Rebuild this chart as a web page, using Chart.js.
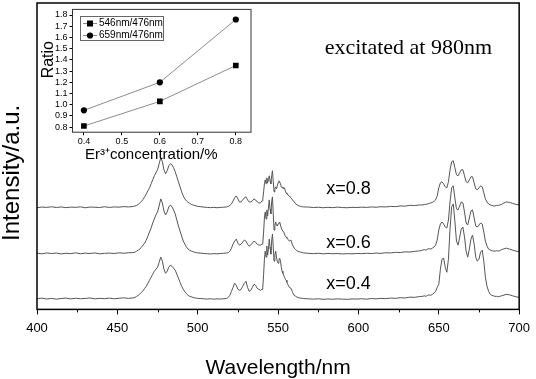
<!DOCTYPE html>
<html><head><meta charset="utf-8">
<script src="https://cdn.jsdelivr.net/npm/chart.js@4/dist/chart.umd.min.js"></script>
<style>
html,body{margin:0;padding:0;background:#fff;}
#wrap{position:relative;width:536px;height:379px;overflow:hidden;}
#main{position:absolute;left:0;top:0;}
#inset{position:absolute;left:38px;top:2px;}
</style></head><body>
<div id="wrap"><canvas id="main" width="536" height="379"></canvas><canvas id="inset" width="219" height="164"></canvas></div>
<script>
// ---------- data ----------
const wavelengths = [
 400,403,406,409,412,415,418,421,424,427,430,433,436,439,442,445,448,451,454,457,
 460,461,462,463,464,465,466,467,468,469,470,471,472,473,474,475,476,477,478,479,480,481,482,483,484,485,486,487,488,489,490,491,492,493,494,495,496,497,498,499,500,
 502,504,506,508,510,512,514,516,518,
 519,520,521,522,523,524,525,526,527,528,529,530,531,532,533,534,535,536,537,538,539,540,
 540.5,541,541.5,542,542.5,543,543.5,544,544.5,545,545.5,546,546.5,547,547.5,548,548.5,549,549.5,550,550.5,551,551.5,552,552.5,553,553.5,554,554.5,555,555.5,556,
 557,558,559,560,561,562,563,564,565,566,
 569,572,575,578,581,584,587,590,593,596,599,602,605,608,611,614,617,620,623,626,629,632,635,638,
 640,641,642,643,644,645,646,647,648,649,650,651,652,653,654,655,656,657,658,659,660,661,662,663,664,665,666,667,668,669,670,671,672,673,674,675,676,677,678,679,680,681,682,683,684,685,686,687,688,689,690,
 692,694,696,698,700
];
const spec04 = [
 0.5,1.2,0.3,1.0,0.2,0.8,1.3,0.4,1.1,0.6,0.9,1.4,0.5,1.0,0.7,1.2,0.6,1.1,1.5,1.0,
 1.5,2,3,4,5.5,7,8.5,11,13,16, 19,22,25,28,30,32,37,42,38,30, 26,28,32,34,33,31,29,25,21,17, 13,10,7.5,5.5,4,3,2.5,2,1.5,1.2, 1,
 0.8,0.5,0.3,0.6,0.2,0.5,0.3,0.6,0.9,
 2,4,8,12,16,14,10,9,10,13, 16,18,12,8,9,12,15,14,11,10, 9,10,
 12,25,40,48,42,53,44,50,60,52, 45,58,65,52,38,44,48,42,38,36, 39,41,38,32,28,26,24,22,20,19, 17,15,
 12,11,7,4,3,2,1.5,1.2,1,0.8,
 0.5,0.2,0.6,0.0,0.4,0.1,0.5,0.2,0.0,0.4,0.3,0.6,0.2,0.8,0.5,1.0,0.7,1.3,1.0,1.6,1.4,2.2,2.0,2.8,
 3,3.5,3,4,4.5,4,5,6,8,12, 15,30,40,41,32,27,40,70,92,95, 78,58,54,62,70,72,62,48,42,50, 60,64,55,42,38,40,47,49,38,22, 13,8,5,4,3.5,3,3,2.5,3,3.5, 4,
 5,4.5,3.5,2.5,2
];
const spec06 = [
 1.0,0.3,1.2,0.6,1.1,0.2,0.9,0.5,1.3,0.4,1.0,0.7,1.2,0.3,0.8,1.1,0.6,1.3,0.9,1.4,
 1.5,2,3,4,5,7,9,11,14,18, 22,26,31,35,39,42,48,55,51,43, 39,42,47,49,47,44,40,34,28,23, 18,13,10,7,5,4,3,2.5,2,1.5, 1.2,
 1.0,0.6,0.4,0.2,0.5,0.3,0.6,0.8,1.2,
 1.5,3,6,10,13,15,11,9,10,12, 14,13,10,8,9,11,13,12,10,9, 9,10,
 11,22,36,42,35,44,38,46,54,45, 40,52,57,40,24,28,32,29,28,30, 31,32,29,26,24,24,22,20,18,17, 16,15,
 13,14,9,6,4.5,3,2.5,2,1.5,1.2,
 0.8,0.5,0.9,0.3,0.7,0.4,0.6,0.2,0.5,0.3,0.7,0.5,0.9,0.6,1.1,0.8,1.4,1.2,1.8,1.6,2.3,2.1,2.8,3.2,
 4,4.5,4,5,5.5,5,6,7,9,14, 24,30,32,30,27,26,34,52,66,68, 56,45,44,48,52,51,42,31,29,36, 43,44,36,28,27,29,31,30,22,13, 8,5,4,3.5,3,3,3.5,3,3.5,4.5, 5,
 6,5,4,3,2.5
];
const spec08 = [
 0.2,0.9,0.5,1.2,0.4,1.0,0.3,0.8,0.6,1.1,0.2,0.9,0.7,0.4,1.2,0.5,1.0,0.8,1.3,1.0,
 1.5,2,2.5,3.5,5,6.5,8.5,11,14,17, 20,24,28,32,35,38,44,50,46,38, 34,37,42,44,43,40,36,31,26,21, 16,12,9,7,5.5,4.5,3.5,3,2.5,2, 1.5,
 1.2,0.8,0.5,0.3,0.6,0.2,0.5,0.7,1.0,
 1.5,2.5,4,7,10,12,9,6,6,8, 10,11,8,6,6,7,9,8,6,5, 5,7,
 9,16,24,28,24,30,25,28,32,27, 24,32,37,26,16,19,21,19,22,25, 27,26,24,21,20,21,19,20,17,15, 14,13,
 12,10,8,6,4,3,2,1.5,1.2,1,
 0.9,0.4,0.7,0.2,0.6,0.3,0.8,0.4,0.2,0.6,0.4,0.8,0.5,1.0,0.7,1.2,1.0,1.5,1.3,2.0,1.8,2.6,2.4,3.0,
 3,3.5,3.5,4,4.5,5,5.5,6.5,8,12, 20,25,26,24,21,20,26,38,46,47, 40,33,32,35,38,38,32,26,25,28, 31,31,25,19,18,20,22,21,15,9, 6,4,3,2.5,2,2,2.5,2.5,3,3.5, 4.5,
 6,5.5,4.5,3.5,3
];
const seriesLabels = ['x=0.4', 'x=0.6', 'x=0.8'];
const seriesOffsets = [10, 55, 101];
const wavelengthTicks = [400, 450, 500, 550, 600, 650, 700];

const concentrations = [0.4, 0.6, 0.8];
const ratio546 = [0.81, 1.03, 1.35];
const ratio659 = [0.95, 1.20, 1.76];
const insetLabels = ['546nm/476nm', '659nm/476nm'];
const ratioTicks = [0.8, 0.9, 1.0, 1.1, 1.2, 1.3, 1.4, 1.5, 1.6, 1.7, 1.8];
const concTicks = [0.4, 0.5, 0.6, 0.7, 0.8];

// ---------- checks ----------
const spectra = [spec04, spec06, spec08];
spectra.forEach((s, i) => { if (s.length !== wavelengths.length) throw new Error('length mismatch ' + i + ': ' + s.length + ' vs ' + wavelengths.length); });

Chart.defaults.font.family = "'Liberation Sans', Arial, sans-serif";
Chart.defaults.color = '#000';

const framePlugin = {
  id: 'frame',
  afterDraw(chart, args, opts) {
    const {ctx, chartArea: a} = chart;
    ctx.save();
    ctx.strokeStyle = opts.color || '#000';
    ctx.lineWidth = opts.width || 1;
    ctx.strokeRect(a.left, a.top, a.right - a.left, a.bottom - a.top);
    ctx.restore();
  }
};

const minorTickPlugin = {
  id: 'minorTicks',
  afterDraw(chart) {
    const s = chart.scales.x, ctx = chart.ctx, b = chart.chartArea.bottom;
    ctx.save(); ctx.strokeStyle = '#000'; ctx.lineWidth = 1;
    s.ticks.forEach(t => {
      if (!wavelengthTicks.includes(t.value)) {
        const px = Math.round(s.getPixelForValue(t.value)) + 0.5;
        ctx.beginPath(); ctx.moveTo(px, b); ctx.lineTo(px, b + 3); ctx.stroke();
      }
    });
    ctx.restore();
  }
};

const notesPlugin = {
  id: 'notes',
  afterDatasetsDraw(chart) {
    const {ctx, scales: {x, y}} = chart;
    ctx.save();
    ctx.fillStyle = '#000'; ctx.textBaseline = 'middle'; ctx.textAlign = 'left';
    ctx.font = "22px 'Liberation Serif', 'Times New Roman', serif";
    ctx.fillText('excitated at 980nm', x.getPixelForValue(579), y.getPixelForValue(260));
    ctx.font = "18px 'Liberation Sans', Arial, sans-serif";
    const labelLevels = [25, 66, 120];
    seriesLabels.forEach((l, i) => ctx.fillText(l, x.getPixelForValue(580), y.getPixelForValue(labelLevels[i])));
    ctx.restore();
  }
};

new Chart(document.getElementById('main'), {
  type: 'line',
  data: {
    datasets: spectra.map((s, i) => ({
      label: seriesLabels[i],
      data: wavelengths.map((w, j) => ({x: w, y: s[j] + seriesOffsets[i]})),
      borderColor: '#555', borderWidth: 1, pointRadius: 0, tension: 0, fill: false
    }))
  },
  options: {
    responsive: false, animation: false, devicePixelRatio: 1,
    layout: {padding: {left: 0, right: 13, top: 3, bottom: 0}},
    plugins: {legend: {display: false}, tooltip: {enabled: false}, frame: {color: '#000', width: 1.5}},
    scales: {
      x: {
        type: 'linear', min: 400, max: 700,
        ticks: {stepSize: 25, includeBounds: false, autoSkip: false, maxRotation: 0, padding: 6,
          font: {size: 13}, callback: v => wavelengthTicks.includes(v) ? String(v) : ''},
        grid: {drawOnChartArea: false, tickLength: 5,
          tickColor: c => (c.tick && wavelengthTicks.includes(c.tick.value)) ? '#000' : 'rgba(0,0,0,0)'},
        border: {display: false},
        title: {display: true, text: 'Wavelength/nm', font: {size: 21, lineHeight: 1}, padding: {top: 16, bottom: 0}}
      },
      y: {
        min: 0, max: 305,
        ticks: {display: false},
        grid: {display: false, drawTicks: false},
        border: {display: false},
        title: {display: true, text: 'Intensity/a.u.     ', font: {size: 24, lineHeight: 1}, padding: {top: 0, bottom: 13}}
      }
    }
  },
  plugins: [framePlugin, minorTickPlugin, notesPlugin]
});

const insetLegendPlugin = {
  id: 'insetLegend',
  afterDraw(chart) {
    const {ctx, chartArea: a} = chart;
    const x0 = Math.round(a.left) + 7, y0 = Math.round(a.top) + 7;
    ctx.save();
    ctx.strokeStyle = '#666'; ctx.lineWidth = 1;
    ctx.strokeRect(x0 + 0.5, y0 + 0.5, 83, 24);
    chart.data.datasets.forEach((ds, i) => {
      const cy = y0 + 7.5 + i * 12;
      ctx.strokeStyle = '#888';
      ctx.beginPath(); ctx.moveTo(x0 + 3, cy); ctx.lineTo(x0 + 17, cy); ctx.stroke();
      ctx.fillStyle = '#000';
      if (ds.pointStyle === 'rect') ctx.fillRect(x0 + 7, cy - 3, 6, 6);
      else { ctx.beginPath(); ctx.arc(x0 + 10, cy, 3.1, 0, Math.PI * 2); ctx.fill(); }
      ctx.font = "10px 'Liberation Sans', Arial, sans-serif";
      ctx.textBaseline = 'middle'; ctx.textAlign = 'left';
      ctx.fillText(ds.label, x0 + 19, cy);
    });
    ctx.restore();
  }
};

new Chart(document.getElementById('inset'), {
  type: 'line',
  data: {
    datasets: [
      {label: insetLabels[0], data: concentrations.map((c, i) => ({x: c, y: ratio546[i]})),
       borderColor: '#8c8c8c', borderWidth: 1, pointStyle: 'rect', pointRadius: 4,
       pointBackgroundColor: '#000', pointBorderColor: '#000', pointBorderWidth: 0, tension: 0},
      {label: insetLabels[1], data: concentrations.map((c, i) => ({x: c, y: ratio659[i]})),
       borderColor: '#8c8c8c', borderWidth: 1, pointStyle: 'circle', pointRadius: 3.1,
       pointBackgroundColor: '#000', pointBorderColor: '#000', pointBorderWidth: 0, tension: 0}
    ]
  },
  options: {
    responsive: false, animation: false, devicePixelRatio: 1,
    layout: {padding: {left: 3, right: 6, top: 3, bottom: 4}},
    plugins: {legend: {display: false}, tooltip: {enabled: false}, frame: {color: '#333', width: 1}},
    scales: {
      x: {
        type: 'linear', min: 0.37, max: 0.84,
        ticks: {stepSize: 0.1, includeBounds: false, autoSkip: false, maxRotation: 0, padding: 1,
          font: {size: 9}, callback: v => concTicks.find(t => Math.abs(t - v) < 1e-6)?.toFixed(1) ?? ''},
        grid: {drawOnChartArea: false, tickLength: 3, tickColor: '#000'},
        border: {display: false},
        title: {display: true, align: 'start', text: '   Er³⁺concentration/%', font: {size: 15, lineHeight: 1}, padding: {top: -1, bottom: 0}}
      },
      y: {
        min: 0.755, max: 1.85,
        ticks: {stepSize: 0.1, includeBounds: false, autoSkip: false, padding: 2,
          font: {size: 9}, callback: v => ratioTicks.find(t => Math.abs(t - v) < 1e-6)?.toFixed(1) ?? ''},
        grid: {drawOnChartArea: false, tickLength: 3, tickColor: '#000'},
        border: {display: false},
        title: {display: true, text: '     Ratio', font: {size: 16, lineHeight: 1}, padding: {top: 0, bottom: -4}}
      }
    }
  },
  plugins: [framePlugin, insetLegendPlugin]
});
</script></body></html>
